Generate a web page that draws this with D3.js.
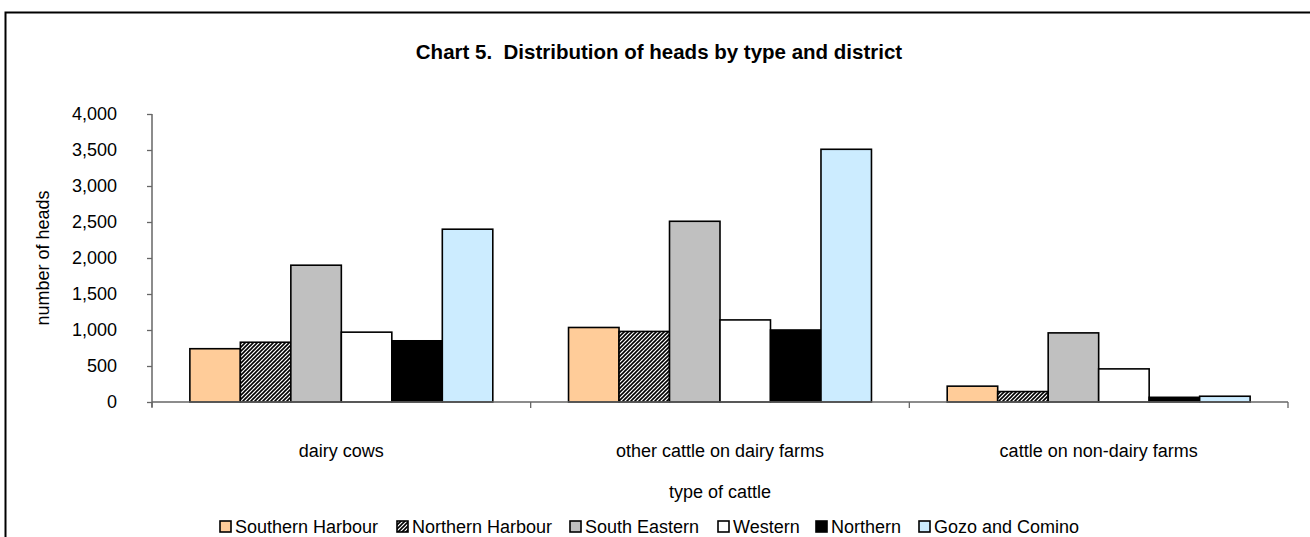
<!DOCTYPE html>
<html>
<head>
<meta charset="utf-8">
<script src="https://cdn.jsdelivr.net/npm/d3@7"></script>
<style>
  html, body { margin: 0; padding: 0; background: #fff; }
  svg { display: block; font-family: "Liberation Sans", Arial, sans-serif; }
</style>
</head>
<body>
<svg id="chart" width="1310" height="537"></svg>
<script>
const categories = ["dairy cows", "other cattle on dairy farms", "cattle on non-dairy farms"];
const seriesNames = ["Southern Harbour", "Northern Harbour", "South Eastern", "Western", "Northern", "Gozo and Comino"];
const southernHarbour = [740, 1035, 220];
const northernHarbour = [830, 980, 145];
const southEastern = [1900, 2510, 960];
const western = [970, 1140, 460];
const northern = [850, 1000, 65];
const gozoComino = [2400, 3510, 80];
const yTicks = [0, 500, 1000, 1500, 2000, 2500, 3000, 3500, 4000];
const seriesValues = [southernHarbour, northernHarbour, southEastern, western, northern, gozoComino];
const seriesFills = ["#FFCC99", "url(#hatch)", "#C0C0C0", "#FFFFFF", "#000000", "#CCECFF"];

(function () {
const svg = d3.select("#chart");
const defs = svg.append("defs");
const pat = defs.append("pattern").attr("id", "hatch").attr("patternUnits", "userSpaceOnUse")
  .attr("width", 4).attr("height", 4);
pat.append("rect").attr("width", 4).attr("height", 4).attr("fill", "#fff");
pat.append("path").attr("d", "M-1,1 l2,-2 M0,4 l4,-4 M3,5 l2,-2")
  .attr("stroke", "#000").attr("stroke-width", 1.6);

// outer frame
svg.append("rect").attr("x", 5.5).attr("y", 12.5).attr("width", 1320).attr("height", 540)
  .attr("fill", "none").attr("stroke", "#000").attr("stroke-width", 2);

const pLeft = 152, pRight = 1288, pTop = 114, pBottom = 402;
const x0 = d3.scaleBand().domain(categories).range([pLeft, pRight]).paddingInner(0.2).paddingOuter(0.1);
const x1 = d3.scaleBand().domain(seriesNames).range([0, x0.bandwidth()]);
const y = d3.scaleLinear().domain([0, 4000]).range([pBottom, pTop]);

svg.append("text").attr("x", 659).attr("y", 59).attr("text-anchor", "middle")
  .style("white-space", "pre")
  .attr("font-weight", "bold").attr("font-size", 20.5).text("Chart 5.  Distribution of heads by type and district");

// bars
const data = [];
categories.forEach((c, ci) => seriesNames.forEach((s, si) => data.push({c, s, si, v: seriesValues[si][ci]})));
svg.append("g").selectAll("rect").data(data).join("rect")
  .attr("x", d => x0(d.c) + x1(d.s))
  .attr("y", d => y(d.v))
  .attr("width", x1.bandwidth())
  .attr("height", d => y(0) - y(d.v))
  .attr("fill", d => seriesFills[d.si])
  .attr("stroke", "#000").attr("stroke-width", 1.6);

// y axis
const yAxis = d3.axisLeft(y).tickValues(yTicks).tickSize(5).tickPadding(30).tickFormat(d3.format(","));
const gy = svg.append("g").attr("transform", `translate(${pLeft},0)`).call(yAxis);
gy.selectAll("text").attr("font-size", 18).attr("fill", "#000").attr("font-family", "Liberation Sans, Arial, sans-serif");
gy.selectAll("line").attr("stroke", "#666").attr("stroke-width", 1.3);
gy.select(".domain").attr("stroke", "#666").attr("stroke-width", 1.5).attr("d", `M0,${pTop}V${pBottom + 5}`);

// x axis
const xAxis = d3.axisBottom(x0).tickSize(0).tickPadding(42);
const gx = svg.append("g").attr("transform", `translate(0,${pBottom})`).call(xAxis);
gx.selectAll("text").attr("font-size", 18).attr("fill", "#000").attr("font-family", "Liberation Sans, Arial, sans-serif");
gx.select(".domain").attr("stroke", "#666").attr("stroke-width", 1.5).attr("d", `M${pLeft},0H${pRight}`);
const bounds = categories.map(c => x0(c) - x0.step() * x0.paddingInner() / 2).concat([pRight]);
gx.selectAll(".sep").data(bounds).join("line").attr("class", "sep")
  .attr("x1", d => d).attr("x2", d => d).attr("y1", 0).attr("y2", 6)
  .attr("stroke", "#666").attr("stroke-width", 1.3);

svg.append("text").attr("transform", `translate(49,258) rotate(-90)`).attr("text-anchor", "middle")
  .attr("font-size", 18).text("number of heads");
svg.append("text").attr("x", 720).attr("y", 498).attr("text-anchor", "middle")
  .attr("font-size", 18).text("type of cattle");

// legend
const legendX = [220, 397, 570, 718, 816, 919];
const lg = svg.append("g").selectAll("g").data(seriesNames).join("g")
  .attr("transform", (d, i) => `translate(${legendX[i]},521)`);
lg.append("rect").attr("width", 11).attr("height", 11).attr("fill", (d, i) => seriesFills[i])
  .attr("stroke", "#000").attr("stroke-width", 1.6);
lg.append("text").attr("x", 15).attr("y", 12).attr("font-size", 18).text(d => d);
})();
</script>
</body>
</html>
